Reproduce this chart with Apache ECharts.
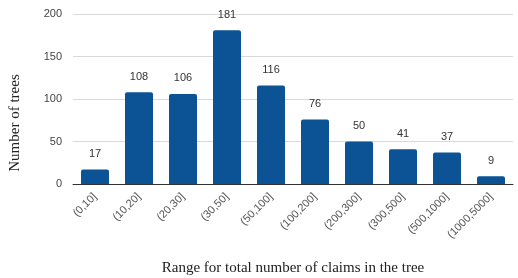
<!DOCTYPE html>
<html>
<head>
<meta charset="utf-8">
<script src="https://cdn.jsdelivr.net/npm/echarts@6/dist/echarts.min.js"></script>
<style>
  html, body { margin: 0; padding: 0; background: #fff; }
  #main { width: 518px; height: 278px; }
</style>
</head>
<body>
<div id="main"></div>
<script>
var categories = ['(0,10]', '(10,20]', '(20,30]', '(30,50]', '(50,100]', '(100,200]', '(200,300]', '(300,500]', '(500,1000]', '(1000,5000]'];
var counts = [17, 108, 106, 181, 116, 76, 50, 41, 37, 9];
var yTicks = [0, 50, 100, 150, 200];

var myChart = echarts.init(document.getElementById('main'));

var option = {
  animation: false,
  grid: { left: 73, right: 5, top: 14, bottom: 94, outerBoundsMode: 'none', containLabel: false },
  // y轴标题 (偏下, 按原图位置)
  graphic: [
    {
      type: 'text',
      x: 15,
      y: 123,
      rotation: Math.PI / 2,
      style: {
        text: 'Number of trees',
        font: '15px "Liberation Serif"',
        fill: '#222',
        align: 'center',
        verticalAlign: 'middle'
      }
    }
  ],
  xAxis: {
    type: 'category',
    data: categories,
    name: 'Range for total number of claims in the tree',
    nameLocation: 'middle',
    nameGap: 77,
    nameTextStyle: { fontFamily: 'Liberation Serif', fontSize: 15, color: '#222' },
    axisTick: { show: false },
    axisLine: { lineStyle: { color: '#333', width: 1 } },
    axisLabel: {
      rotate: 45,
      interval: 0,
      fontFamily: 'Liberation Sans',
      fontSize: 11,
      color: '#555',
      margin: 11
    }
  },
  yAxis: {
    type: 'value',
    min: yTicks[0],
    max: yTicks[yTicks.length - 1],
    interval: 50,
    axisLabel: { fontFamily: 'Liberation Sans', fontSize: 11, color: '#444', margin: 11 },
    splitLine: { lineStyle: { color: '#d9d9d9' } }
  },
  series: [
    {
      type: 'bar',
      data: counts,
      barWidth: 28,
      itemStyle: { color: '#0b5394', borderRadius: [2, 2, 0, 0] },
      label: {
        show: true,
        position: 'top',
        distance: 10,
        fontFamily: 'Liberation Sans',
        fontSize: 11,
        color: '#333'
      }
    }
  ]
};

myChart.setOption(option);
</script>
</body>
</html>
